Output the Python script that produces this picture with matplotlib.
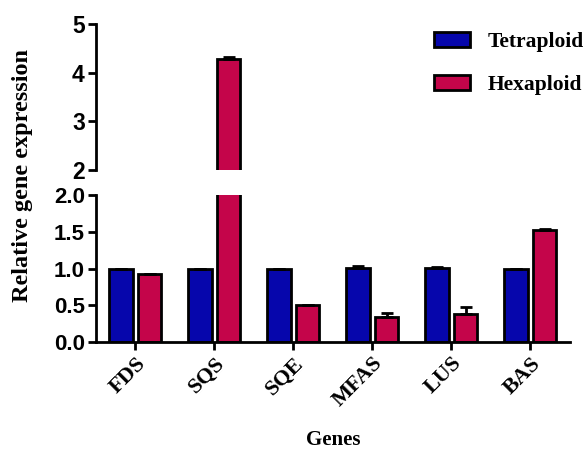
import matplotlib.pyplot as plt
import numpy as np

genes = ['FDS', 'SQS', 'SQE', 'MFAS', 'LUS', 'BAS']
tetraploid = [1.0, 1.0, 1.0, 1.01, 1.01, 1.0]
tetraploid_err = [0.0, 0.0, 0.0, 0.03, 0.01, 0.0]
hexaploid = [0.93, 4.28, 0.50, 0.34, 0.38, 1.53]
hexaploid_err = [0.0, 0.05, 0.01, 0.06, 0.10, 0.01]

blue = '#0606AC'
red = '#C4054A'
serif = 'Liberation Serif'
sans = 'Liberation Sans'

fig = plt.figure(figsize=(5.85, 4.55), dpi=100)
ax_top = fig.add_axes([0.164, 0.626, 0.81, 0.321])
ax_bot = fig.add_axes([0.164, 0.248, 0.81, 0.323])

x = np.arange(len(genes))
w = 0.30
off = 0.18

for ax in (ax_top, ax_bot):
    ax.bar(x - off, tetraploid, w, color=blue, edgecolor='black', linewidth=2,
           yerr=[np.zeros(len(x)), tetraploid_err], capsize=4,
           error_kw=dict(elinewidth=2, capthick=2), label='Tetraploid', zorder=2)
    ax.bar(x + off, hexaploid, w, color=red, edgecolor='black', linewidth=2,
           yerr=[np.zeros(len(x)), hexaploid_err], capsize=4,
           error_kw=dict(elinewidth=2, capthick=2), label='Hexaploid', zorder=2)
    ax.set_xlim(-0.5, 5.5)
    for s in ['top', 'right']:
        ax.spines[s].set_visible(False)
    ax.spines['left'].set_linewidth(2)
    ax.spines['bottom'].set_linewidth(2)
    ax.tick_params(width=2, length=6, labelsize=16, pad=2)

ax_top.set_ylim(2, 5)
ax_top.set_yticks([2, 3, 4, 5])
ax_top.set_yticklabels(['2', '3', '4', '5'], fontfamily=sans, fontweight='bold', fontsize=16.5)
ax_top.spines['bottom'].set_visible(False)
ax_top.tick_params(axis='x', bottom=False, labelbottom=False)

ax_bot.set_ylim(0, 2)
ax_bot.set_yticks([0, 0.5, 1.0, 1.5, 2.0])
ax_bot.set_yticklabels(['0.0', '0.5', '1.0', '1.5', '2.0'], fontfamily=sans, fontweight='bold', fontsize=16)
ax_bot.set_xticks(x)
ax_bot.set_xticklabels(genes, rotation=45, ha='right', rotation_mode='anchor',
                       fontfamily=serif, fontweight='bold', fontsize=16)
ax_bot.set_xlabel('Genes', fontfamily=serif, fontweight='bold', fontsize=15, labelpad=14)

fig.text(0.038, 0.615, 'Relative gene expression', rotation=90, ha='center', va='center',
         fontfamily=serif, fontweight='bold', fontsize=17.5)

handles, labels = ax_top.get_legend_handles_labels()
fig.legend(handles, labels, loc='upper left', bbox_to_anchor=(0.742, 0.93), frameon=False,
           prop=dict(family=serif, weight='bold', size=15.5), handlelength=1.65,
           handleheight=0.7, labelspacing=1.05, handletextpad=0.85, borderpad=0,
           borderaxespad=0)

fig.savefig('out.png', dpi=100)
